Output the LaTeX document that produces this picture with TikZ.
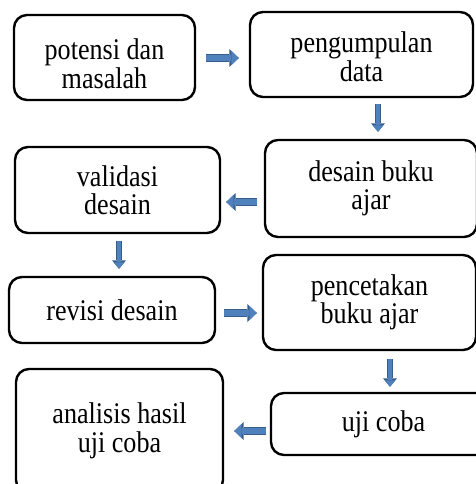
\documentclass[tikz,border=0pt]{standalone}
\usepackage{fontspec}
\setmainfont{Liberation Serif}[FakeStretch=0.87]
\usepackage{tikz}
\usetikzlibrary{arrows.meta}

\definecolor{flowfill}{HTML}{4F81BD}
\definecolor{flowline}{HTML}{385D8A}
\def\stagefont{\fontsize{30}{28.5}\selectfont}

\tikzset{
    stage/.style={draw, line width=2.4pt, rounded corners=13pt, align=center, inner sep=0pt, font=\stagefont},
    hflow/.style={line width=6pt, draw=flowfill, -{Triangle[length=7.5pt,width=14.5pt,fill=flowfill,line width=0pt]},
        preaction={draw=flowline, line width=8.5pt, -{Triangle[length=9.5pt,width=18pt,fill=flowline,line width=0pt]}}},
    vflow/.style={line width=3.5pt, draw=flowfill, -{Triangle[length=6.5pt,width=11pt,fill=flowfill,line width=0pt]},
        preaction={draw=flowline, line width=5.5pt, -{Triangle[length=8.5pt,width=14pt,fill=flowline,line width=0pt]}}}
}

\begin{document}
\begin{tikzpicture}[x=1pt,y=-1pt]
\useasboundingbox (0,0) rectangle (475,484);

\node[stage, minimum width=181, minimum height=85] (potensi) at (104.5,57.5) {\rule{0pt}{33.5pt}potensi dan\\masalah};
\node[stage, minimum width=223, minimum height=85] (pengumpulan) at (361.5,54.5) {\rule{0pt}{25.5pt}pengumpulan\\data};
\node[stage, minimum width=212, minimum height=97] (desain) at (371,188.5) {desain buku\\ajar};
\node[stage, minimum width=205, minimum height=86] (validasi) at (117.5,190) {validasi\\desain};
\node[stage, minimum width=206, minimum height=66] (revisi) at (112,310) {revisi desain};
\node[stage, minimum width=213, minimum height=95] (pencetakan) at (369.5,302.5) {pencetakan\\buku ajar};
\node[stage, minimum width=225, minimum height=62] (uji) at (383.5,424) {uji coba};
\node[stage, minimum width=207, minimum height=124] (analisis) at (119.5,431) {analisis hasil\\uji coba};

\draw[hflow] ([shift={(10,0.5)}]potensi.east) -- ([shift={(-10,0.5)}]pengumpulan.west |- potensi.east);
\draw[vflow] ([shift={(16.5,6)}]pengumpulan.south) -- ([shift={(7,-7)}]desain.north);
\draw[hflow] ([shift={(-7,13.5)}]desain.west) -- ([shift={(5,12)}]validasi.east);
\draw[vflow] ([shift={(1.5,7)}]validasi.south) -- ([shift={(7,-7)}]revisi.north);
\draw[hflow] ([shift={(8,3)}]revisi.east) -- ([shift={(-5,10.5)}]pencetakan.west);
\draw[vflow] ([shift={(20.5,8)}]pencetakan.south) -- ([shift={(6.5,-5)}]uji.north);
\draw[hflow] ([shift={(-4,7)}]uji.west) -- ([shift={(10,0)}]analisis.east);

\end{tikzpicture}
\end{document}
